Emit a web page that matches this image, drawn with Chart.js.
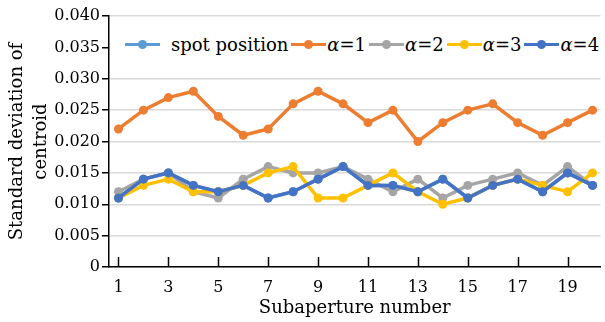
<!DOCTYPE html>
<html>
<head>
<meta charset="utf-8">
<script src="https://cdn.jsdelivr.net/npm/chart.js@4"></script>
<style>
  body { margin: 0; background: #fff; }
  #wrap { position: relative; width: 605px; height: 322px; }
  #legend {
    position: absolute; left: 110px; top: 33px; width: 495px; height: 23px;
    background: #fff; display: flex; align-items: center;
    font-family: "DejaVu Serif", serif; font-size: 18px; color: #000;
  }
  .item { display: flex; align-items: center; }
  .sample { position: relative; width: 35px; height: 3px; }
  .sample i { position: absolute; left: 13px; top: -3px; width: 9px; height: 9px; border-radius: 50%; }
</style>
</head>
<body>
<div id="wrap">
  <canvas id="chart" width="605" height="322"></canvas>
  <div id="legend"></div>
</div>
<script>
const subapertures = [1, 2, 3, 4, 5, 6, 7, 8, 9, 10, 11, 12, 13, 14, 15, 16, 17, 18, 19, 20];
const xTickLabels = [1, 3, 5, 7, 9, 11, 13, 15, 17, 19];
const yTickValues = [0, 0.005, 0.010, 0.015, 0.020, 0.025, 0.030, 0.035, 0.040];

const spotPosition = [0.011, 0.014, 0.015, 0.013, 0.012, 0.013, 0.011, 0.012, 0.014, 0.016, 0.013, 0.013, 0.012, 0.014, 0.011, 0.013, 0.014, 0.012, 0.015, 0.013];
const alpha1 = [0.022, 0.025, 0.027, 0.028, 0.024, 0.021, 0.022, 0.026, 0.028, 0.026, 0.023, 0.025, 0.020, 0.023, 0.025, 0.026, 0.023, 0.021, 0.023, 0.025];
const alpha2 = [0.012, 0.014, 0.015, 0.012, 0.011, 0.014, 0.016, 0.015, 0.015, 0.016, 0.014, 0.012, 0.014, 0.011, 0.013, 0.014, 0.015, 0.013, 0.016, 0.013];
const alpha3 = [0.011, 0.013, 0.014, 0.012, 0.012, 0.013, 0.015, 0.016, 0.011, 0.011, 0.013, 0.015, 0.012, 0.010, 0.011, 0.013, 0.014, 0.013, 0.012, 0.015];
const alpha4 = [0.011, 0.014, 0.015, 0.013, 0.012, 0.013, 0.011, 0.012, 0.014, 0.016, 0.013, 0.013, 0.012, 0.014, 0.011, 0.013, 0.014, 0.012, 0.015, 0.013];

const seriesNames = ['spot position', 'α=1', 'α=2', 'α=3', 'α=4'];
const seriesColors = ['#5b9bd5', '#ed7d31', '#a5a5a5', '#ffc000', '#4472c4'];
const seriesData = [spotPosition, alpha1, alpha2, alpha3, alpha4];

const serif = '"DejaVu Serif", serif';

function makeDataset(i) {
    return {
        label: seriesNames[i],
        data: subapertures.map((x, k) => ({ x: x, y: seriesData[i][k] })),
        borderColor: seriesColors[i],
        backgroundColor: seriesColors[i],
        borderWidth: 3.5,
        pointRadius: 4.5,
        pointBorderWidth: 0,
        tension: 0,
        order: seriesData.length - 1 - i
    };
}

// x tick marks point up into the plot
const innerTicks = {
    id: 'innerTicks',
    afterDraw(chart) {
        const ctx = chart.ctx;
        const xs = chart.scales.x;
        const bottom = chart.chartArea.bottom;
        ctx.save();
        ctx.strokeStyle = '#000';
        ctx.lineWidth = 1.5;
        xTickLabels.forEach(v => {
            const px = Math.round(xs.getPixelForValue(v)) + 0.5;
            ctx.beginPath();
            ctx.moveTo(px, bottom);
            ctx.lineTo(px, bottom - 10);
            ctx.stroke();
        });
        ctx.restore();
    }
};

new Chart(document.getElementById('chart'), {
    type: 'line',
    data: { datasets: seriesData.map((_, i) => makeDataset(i)) },
    plugins: [innerTicks],
    options: {
        responsive: false,
        animation: false,
        layout: { padding: { top: 16, right: 0, left: 0, bottom: 0 } },
        plugins: {
            legend: { display: false },
            tooltip: { enabled: false }
        },
        scales: {
            x: {
                type: 'linear',
                min: 0.62,
                max: 20.32,
                afterBuildTicks: s => { s.ticks = xTickLabels.map(v => ({ value: v })); },
                afterFit: s => { s.height = 55; },
                grid: { display: false, drawTicks: false },
                border: { color: '#000', width: 1.5 },
                ticks: {
                    color: '#000',
                    padding: 11,
                    maxRotation: 0,
                    autoSkip: false,
                    font: { family: serif, size: 16 }
                },
                title: {
                    display: true,
                    text: 'Subaperture number',
                    color: '#000',
                    font: { family: serif, size: 18, lineHeight: 1.2 },
                    padding: { top: 0, bottom: 3 }
                }
            },
            y: {
                min: 0,
                max: 0.04,
                afterBuildTicks: s => { s.ticks = yTickValues.map(v => ({ value: v })); },
                afterFit: s => { s.width = 109; },
                grid: { color: '#d9d9d9', lineWidth: 1.5, tickColor: '#000', tickLength: 7 },
                border: { color: '#000', width: 1.5 },
                ticks: {
                    color: '#000',
                    padding: 2,
                    font: { family: serif, size: 16 },
                    callback: v => v === 0 ? '0' : v.toFixed(3)
                },
                title: {
                    display: true,
                    text: ['Standard deviation of', 'centroid'],
                    color: '#000',
                    font: { family: serif, size: 18, lineHeight: 1.3 },
                    padding: { top: 6, bottom: 0 }
                }
            }
        }
    }
});

// legend drawn as an overlay box inside the plot, like the original
const legend = document.getElementById('legend');
seriesNames.forEach((name, i) => {
    const item = document.createElement('div');
    item.className = 'item';
    item.style.marginLeft = i === 0 ? '15px' : '3px';
    const sample = document.createElement('span');
    sample.className = 'sample';
    sample.style.background = seriesColors[i];
    sample.innerHTML = `<i style="background:${seriesColors[i]}"></i>`;
    const label = document.createElement('span');
    label.style.marginLeft = i === 0 ? '11px' : '1px';
    label.innerHTML = name.startsWith('α') ? `<em>α</em>${name.slice(1)}` : name;
    item.appendChild(sample);
    item.appendChild(label);
    legend.appendChild(item);
});
</script>
</body>
</html>
